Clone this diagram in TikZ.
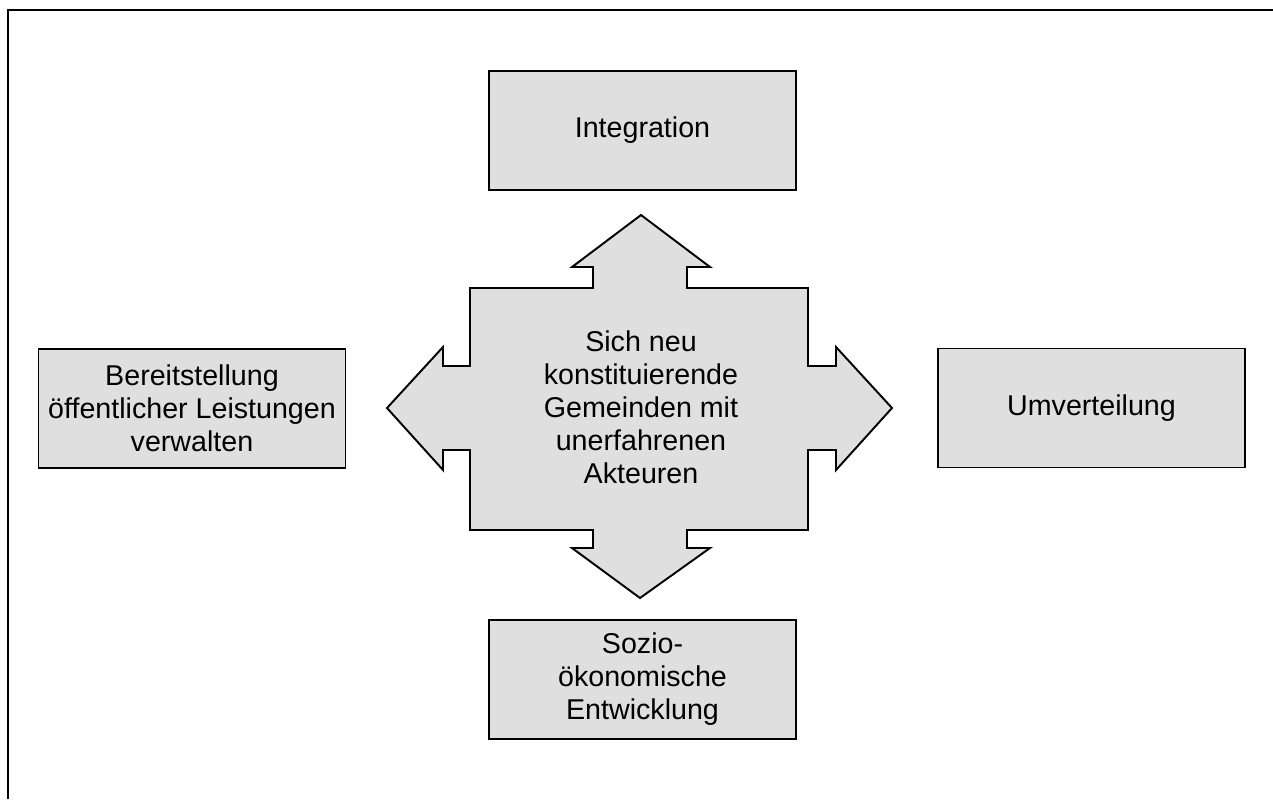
\documentclass[tikz,border=0pt]{standalone}
\usepackage{fontspec}
\setmainfont{Liberation Sans}
\definecolor{boxGray}{RGB}{223,223,223}
\tikzstyle{bS}=[rectangle,minimum width = 6.14cm,minimum height = 2.38cm,inner sep = 0pt,draw,line width=1.1pt,fill=boxGray, font=\fontsize{16.3}{18.8}\selectfont,align=center]
\tikzstyle{cS}=[inner sep = 0pt, font=\fontsize{16.3}{18.8}\selectfont,align=center]
\tikzstyle{xS}=[line width=1.1pt,draw,fill=boxGray,line join=miter]

\begin{document}
\begin{tikzpicture}[x=0.02cm,y=-0.02cm]
    \useasboundingbox (0,0) rectangle (1273,799);
    \draw[line width=1.2pt] (8,799) -- (8,10) -- (1273,10);
    % cross with four arrows
    \draw[xS] (641,215) -- (710,267) -- (687,267) -- (687,288) -- (808,288) -- (808,366)
        -- (836,366) -- (836,347) -- (892,408) -- (836,470) -- (836,450) -- (808,450)
        -- (808,530) -- (687,530) -- (687,548) -- (710,548) -- (640,598) -- (572,548)
        -- (593,548) -- (593,530) -- (470,530) -- (470,450) -- (443,450) -- (443,470)
        -- (387,408) -- (443,347) -- (443,366) -- (470,366) -- (470,288) -- (593,288)
        -- (593,267) -- (572,267) -- cycle;
    \draw (641,407) node[cS] (gem) {Sich neu\\konstituierende\\Gemeinden mit\\unerfahrenen\\Akteuren};
    \draw (642.5,130.5) node[bS] (integ) {Integration};
    \draw (192,408.5) node[bS] (bereit) {Bereitstellung\\öffentlicher Leistungen\\verwalten};
    \draw (1091.5,408) node[bS] (umvert) {Umverteilung};
    \draw (642.5,679.5) node[bS] (sozio) {Sozio-\\ökonomische\\Entwicklung};
    \end{tikzpicture}
\end{document}
